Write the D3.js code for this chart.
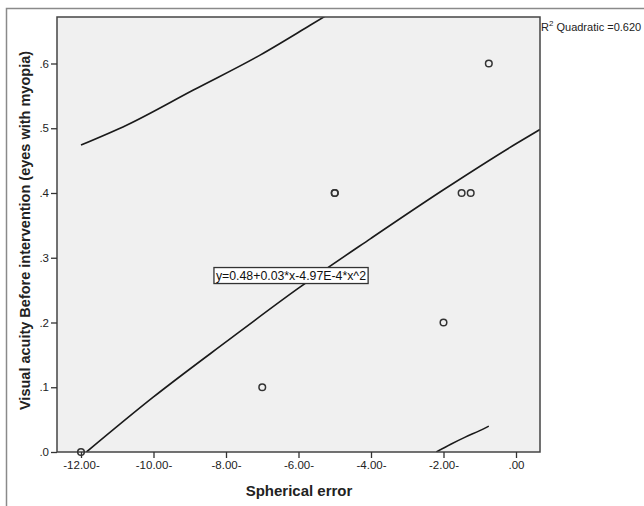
<!DOCTYPE html>
<html>
<head>
<meta charset="utf-8">
<script src="https://cdn.jsdelivr.net/npm/d3@7"></script>
<style>
  html, body { margin: 0; padding: 0; background: #fff; }
  svg { display: block; font-family: "Liberation Sans", Arial, sans-serif; }
</style>
</head>
<body>
<svg id="chart" width="644" height="506"></svg>
<script>
// observed cases
const pointX = [-12, -7, -5, -5, -2, -1.5, -1.25, -0.75];
const pointY = [0, 0.1, 0.4, 0.4, 0.2, 0.4, 0.4, 0.6];

// fitted quadratic curve
const fitX = [-11.85, -10, -8, -6, -4, -2, 0, 0.66];
const fitY = [0, 0.085, 0.17, 0.253, 0.33, 0.405, 0.476, 0.498];

// prediction interval curves
const upperX = [-12, -10.73, -8.9, -7.06, -5.68, -5];
const upperY = [0.474, 0.505, 0.559, 0.613, 0.659, 0.682];
const lowerX = [-2.2, -1.8, -1.4, -1.0, -0.75];
const lowerY = [0, 0.012, 0.023, 0.033, 0.04];

const xTicks = [-12, -10, -8, -6, -4, -2, 0];
const xTickLabels = ["-12.00-", "-10.00-", "-8.00-", "-6.00-", "-4.00-", "-2.00-", ".00"];
const yTicks = [0, 0.1, 0.2, 0.3, 0.4, 0.5, 0.6];
const yTickLabels = [".0", ".1", ".2", ".3", ".4", ".5", ".6"];

const equationText = "y=0.48+0.03*x-4.97E-4*x^2";
const rSquared = "0.620";

const svg = d3.select("#chart");
const plot = { left: 57, right: 540, top: 17, bottom: 452 };

const x = d3.scaleLinear().domain([-12.662, 0.662]).range([plot.left, plot.right]);
const y = d3.scaleLinear().domain([0, 0.6718]).range([plot.bottom, plot.top]);

// outer frame (only left and top edges are in view)
svg.append("path")
  .attr("d", "M6.5,506V8.5H644")
  .attr("fill", "none")
  .attr("stroke", "#8a8a8a")
  .attr("stroke-width", 1.5);

svg.append("rect")
  .attr("x", plot.left).attr("y", plot.top)
  .attr("width", plot.right - plot.left).attr("height", plot.bottom - plot.top)
  .attr("fill", "#f0f0f0");

svg.append("clipPath").attr("id", "clip")
  .append("rect")
  .attr("x", plot.left).attr("y", plot.top)
  .attr("width", plot.right - plot.left).attr("height", plot.bottom - plot.top);

const g = svg.append("g").attr("clip-path", "url(#clip)");

const line = d3.line()
  .x((d) => x(d[0]))
  .y((d) => y(d[1]))
  .curve(d3.curveMonotoneX);

[[fitX, fitY], [upperX, upperY], [lowerX, lowerY]].forEach(([xs, ys]) => {
  g.append("path")
    .datum(d3.zip(xs, ys))
    .attr("d", line)
    .attr("fill", "none")
    .attr("stroke", "#1a1a1a")
    .attr("stroke-width", 1.6);
});

// plot border
svg.append("rect")
  .attr("x", plot.left).attr("y", plot.top)
  .attr("width", plot.right - plot.left).attr("height", plot.bottom - plot.top)
  .attr("fill", "none")
  .attr("stroke", "#444")
  .attr("stroke-width", 1.5);

// axes
const xAxis = svg.append("g")
  .attr("transform", `translate(0,${plot.bottom})`)
  .call(d3.axisBottom(x).tickValues(xTicks).tickSize(6).tickPadding(3)
    .tickFormat((d, i) => xTickLabels[i]));
const yAxis = svg.append("g")
  .attr("transform", `translate(${plot.left},0)`)
  .call(d3.axisLeft(y).tickValues(yTicks).tickSize(6).tickPadding(2)
    .tickFormat((d, i) => yTickLabels[i]));

[xAxis, yAxis].forEach((ax) => {
  ax.select(".domain").remove();
  ax.selectAll(".tick line").attr("stroke", "#333").attr("stroke-width", 1.3);
  ax.selectAll(".tick text")
    .attr("fill", "#222")
    .style("font-size", "11.5px")
    .style("font-family", "\"Liberation Sans\", Arial, sans-serif");
});

// data points (drawn over the axis like the original)
svg.append("g")
  .selectAll("circle")
  .data(d3.zip(pointX, pointY))
  .join("circle")
  .attr("cx", (d) => x(d[0]))
  .attr("cy", (d) => y(d[1]))
  .attr("r", 3.3)
  .attr("fill", "none")
  .attr("stroke", "#333")
  .attr("stroke-width", 1.5);

// equation label
const eq = svg.append("g").attr("transform", `translate(${x(-8.36)},${y(0.273)})`);
const eqText = eq.append("text")
  .attr("x", 3).attr("y", 0)
  .attr("dy", "0.35em")
  .attr("fill", "#111")
  .style("font-size", "12.3px")
  .text(equationText);
const bb = eqText.node().getBBox();
eq.insert("rect", "text")
  .attr("x", bb.x - 2).attr("y", bb.y - 1)
  .attr("width", bb.width + 4).attr("height", bb.height + 2)
  .attr("fill", "#fff")
  .attr("stroke", "#333")
  .attr("stroke-width", 1.3);

// R squared legend
const r2 = svg.append("text")
  .attr("x", plot.right + 1).attr("y", 31)
  .attr("fill", "#222")
  .style("font-size", "11px");
r2.append("tspan").text("R");
r2.append("tspan").attr("dy", -5).style("font-size", "8px").text("2");
r2.append("tspan").attr("dy", 5).text(" Quadratic =" + rSquared);

// axis titles
svg.append("text")
  .attr("x", 299)
  .attr("y", 496)
  .attr("text-anchor", "middle")
  .attr("fill", "#222")
  .style("font-size", "15px")
  .style("font-weight", "bold")
  .text("Spherical error");

svg.append("text")
  .attr("transform", `translate(30,${(plot.top + plot.bottom) / 2 - 4}) rotate(-90)`)
  .attr("text-anchor", "middle")
  .attr("fill", "#222")
  .style("font-size", "14.5px")
  .style("font-weight", "bold")
  .text("Visual acuity Before intervention (eyes with myopia)");
</script>
</body>
</html>
